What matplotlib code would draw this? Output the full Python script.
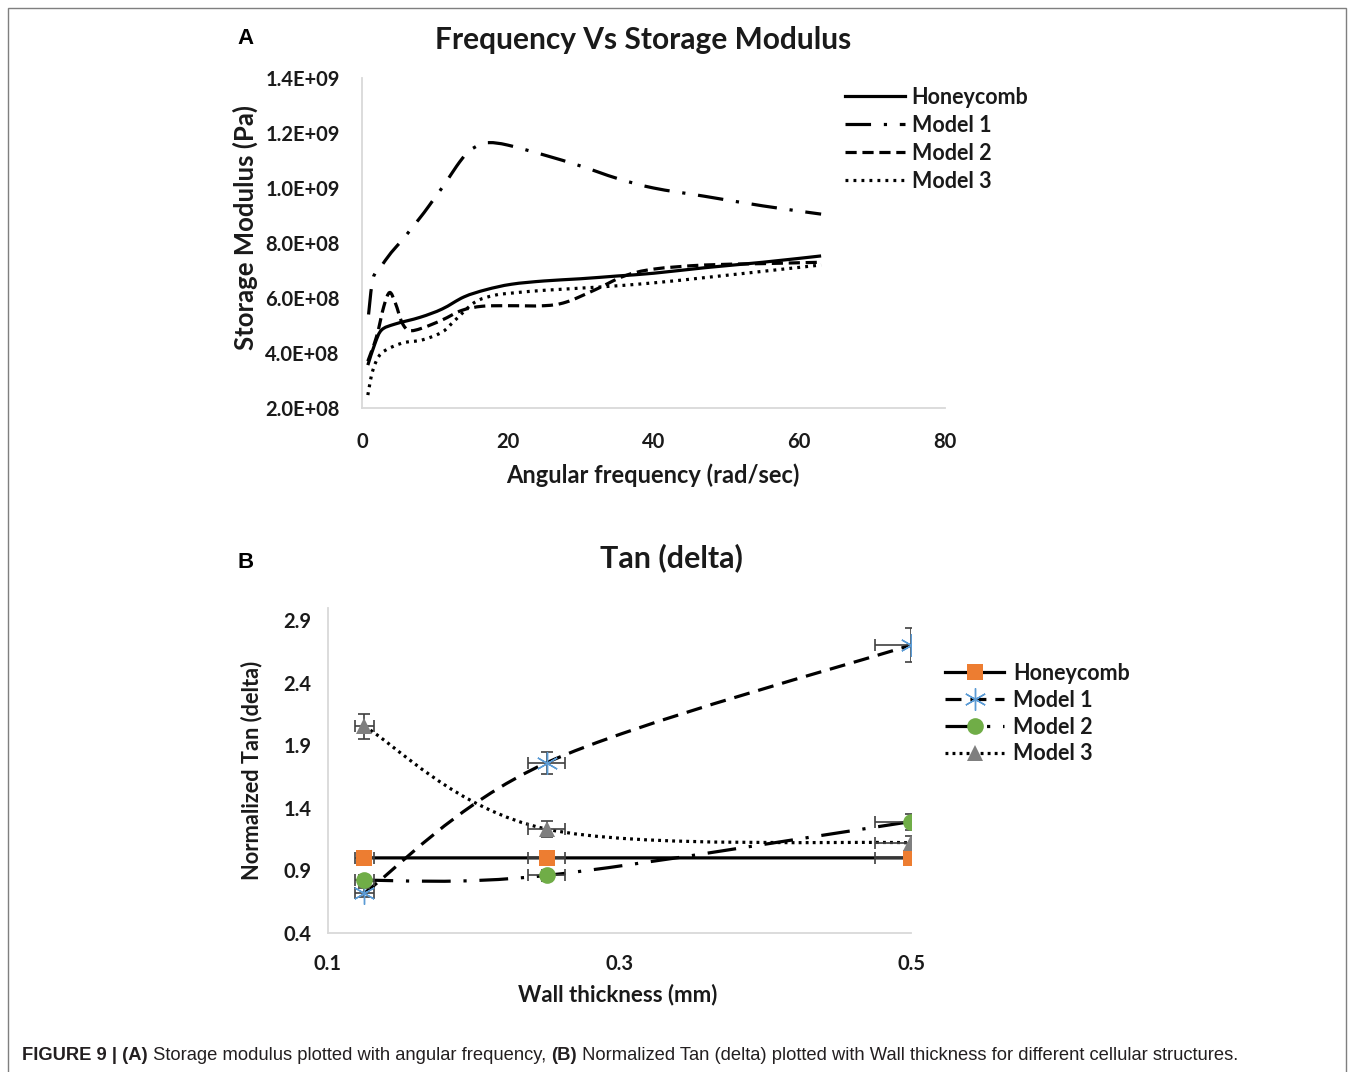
import matplotlib
matplotlib.use("Agg")
import matplotlib.pyplot as plt
from matplotlib.lines import Line2D
from matplotlib.path import Path
from matplotlib.patches import PathPatch, Rectangle
from matplotlib.ticker import FuncFormatter
import numpy as np

# ---- Panel A: storage modulus (values in 1E8 Pa) ----
freq_honeycomb = [0.8, 1.8, 2.7, 4.5, 8, 11, 14, 17, 20.5, 25, 30, 35, 40, 47, 55, 63]
mod_honeycomb = [3.56, 4.36, 4.84, 5.05, 5.3, 5.6, 6.04, 6.3, 6.5, 6.62, 6.7, 6.8, 6.9, 7.1, 7.3, 7.53]

freq_model1 = [0.9, 1.5, 2.5, 4, 5.5, 7, 8.5, 10, 11.5, 13, 14.5, 16, 17.5, 20, 25, 30, 35, 40, 47, 55, 63]
mod_model1 = [5.4, 6.7, 7.1, 7.65, 8.1, 8.6, 9.1, 9.65, 10.2, 10.8, 11.3, 11.55, 11.65, 11.56, 11.2,
              10.8, 10.35, 10.0, 9.7, 9.35, 9.05]

freq_model2 = [0.8, 2.0, 3.0, 3.8, 4.6, 5.5, 6.5, 8.2, 11, 13.7, 16.5, 20, 25, 28, 32, 36, 40, 47, 55, 63]
mod_model2 = [3.7, 4.6, 5.7, 6.2, 5.8, 5.1, 4.82, 4.9, 5.2, 5.55, 5.7, 5.72, 5.72, 5.85, 6.3, 6.8,
              7.05, 7.2, 7.25, 7.3]

freq_model3 = [0.8, 1.5, 2.7, 5.5, 8.2, 11, 12.8, 15.5, 18.2, 20.6, 25, 32.6, 40, 47.7, 55, 63]
mod_model3 = [2.47, 3.38, 4.0, 4.36, 4.47, 4.76, 5.2, 5.85, 6.1, 6.18, 6.28, 6.4, 6.55, 6.76, 6.97, 7.2]

# ---- Panel B: normalized tan(delta) ----
thickness = [0.125, 0.25, 0.5]
tan_honeycomb = [1.0, 1.0, 1.0]
tan_model1 = [0.72, 1.76, 2.70]
tan_model2 = [0.82, 0.86, 1.29]
tan_model3 = [2.05, 1.23, 1.12]
err_pct = 0.05  # percentage error bars, both directions

labels = ["Honeycomb", "Model 1", "Model 2", "Model 3"]

W, H = 1354, 1072
fig = plt.figure(figsize=(W / 100, H / 100), dpi=100)
font = "Lato"
txt = "#1a1a1a"
lw = 2.3

# line styles
ls_m1a = (0, (8, 4, 1, 4))
ls_m2a = (0, (3.5, 1.8))
ls_m3a = (0, (0.9, 1.6))


def fx(px):
    return px / W


def fy(py):
    return 1 - py / H


def smooth_path(x, y):
    # Excel-style smoothed line (Bezier through the points)
    pts = np.column_stack([x, y]).astype(float)
    n = len(pts)
    verts = [pts[0]]
    codes = [Path.MOVETO]
    for i in range(n - 1):
        p0 = pts[max(i - 1, 0)]
        p1 = pts[i]
        p2 = pts[i + 1]
        p3 = pts[min(i + 2, n - 1)]
        verts += [p1 + (p2 - p0) / 6, p2 - (p3 - p1) / 6, p2]
        codes += [Path.CURVE4] * 3
    return Path(verts, codes)


def style_axes(ax):
    for s in ["top", "right"]:
        ax.spines[s].set_visible(False)
    for s in ["left", "bottom"]:
        ax.spines[s].set_color("#d9d9d9")
        ax.spines[s].set_linewidth(1.3)
    ax.tick_params(length=0, labelsize=14.5, labelcolor=txt)
    for lab in ax.get_xticklabels() + ax.get_yticklabels():
        lab.set_fontfamily(font)
        lab.set_fontweight("bold")


# outer frame
fig.add_artist(Rectangle((fx(8), fy(1090)), fx(1338), 1082 / H, transform=fig.transFigure,
                         fill=False, edgecolor="#7f7f7f", linewidth=1.0))

# ================= Panel A =================
axA = fig.add_axes([fx(362), fy(408), fx(583), 330 / H])
sc = 1e8
for fr, md, ls in [(freq_honeycomb, mod_honeycomb, "-"),
                   (freq_model1, mod_model1, ls_m1a),
                   (freq_model2, mod_model2, ls_m2a),
                   (freq_model3, mod_model3, ls_m3a)]:
    axA.add_patch(PathPatch(smooth_path(fr, np.array(md) * sc), fill=False,
                            edgecolor="black", lw=lw, linestyle=ls))
axA.set_xlim(0, 80)
axA.set_ylim(2e8, 1.4e9)
axA.set_xticks([0, 20, 40, 60, 80])
axA.set_yticks(np.arange(2e8, 1.41e9, 2e8))
axA.yaxis.set_major_formatter(FuncFormatter(lambda v, p: f"{v:.1E}"))
axA.tick_params(axis="x", pad=17)
axA.tick_params(axis="y", pad=16)
style_axes(axA)

handlesA = [Line2D([], [], color="black", lw=lw, ls="-"),
            Line2D([], [], color="black", lw=lw, ls=ls_m1a),
            Line2D([], [], color="black", lw=lw, ls=ls_m2a),
            Line2D([], [], color="black", lw=lw, ls=ls_m3a)]
legA = fig.legend(handlesA, labels, loc="upper left", bbox_to_anchor=(fx(845), fy(87)),
                  frameon=False, borderpad=0, borderaxespad=0, handlelength=2.8,
                  handletextpad=0.3, labelspacing=0.32,
                  prop={"family": font, "weight": "bold", "size": 15.5})
for t in legA.get_texts():
    t.set_color(txt)

fig.text(fx(643), fy(40), "Frequency Vs Storage Modulus", ha="center", va="center",
         fontsize=21.5, fontweight="bold", family=font, color=txt)
fig.text(fx(653), fy(475), "Angular frequency (rad/sec)", ha="center", va="center",
         fontsize=17, fontweight="bold", family=font, color=txt)
fig.text(fx(245), fy(228), "Storage Modulus (Pa)", ha="center", va="center", rotation=90,
         fontsize=18.5, fontweight="bold", family=font, color=txt)
fig.text(fx(246), fy(39), "A", ha="center", va="center", fontsize=16, fontweight="bold",
         family="Liberation Sans", color="black")

# ================= Panel B =================
axB = fig.add_axes([fx(328), fy(933), fx(583), 325.5 / H])
series = [
    (tan_honeycomb, "-", "s", "#ed7d31", 12, 0),
    (tan_model1, (0, (5, 2.8)), (6, 2, 0), "#5b9bd5", 16, 1.0),
    (tan_model2, (0, (9, 4, 1, 4)), "o", "#70ad47", 12, 0),
    (tan_model3, (0, (0.9, 1.3)), "^", "#7f7f7f", 12, 0),
]
handlesB = []
for vals, ls, mk, col, ms, mew in series:
    axB.add_patch(PathPatch(smooth_path(thickness, vals), fill=False, edgecolor="black",
                            lw=lw, linestyle=ls, zorder=2))
    vals = np.array(vals)
    axB.errorbar(thickness, vals, xerr=np.array(thickness) * err_pct, yerr=vals * err_pct,
                 fmt="none", ecolor="#404040", elinewidth=1.2, capsize=4, capthick=1.2, zorder=3)
    axB.plot(thickness, vals, ls="none", marker=mk, ms=ms, color=col, mec=col,
             mew=mew, zorder=4)
    handlesB.append(Line2D([], [], color="black", lw=lw, ls=ls, marker=mk, ms=ms,
                           mfc=col, mec=col, mew=mew))
axB.set_xlim(0.1, 0.5)
axB.set_ylim(0.4, 3.0)
axB.set_xticks([0.1, 0.3, 0.5])
axB.set_yticks([0.4, 0.9, 1.4, 1.9, 2.4, 2.9])
axB.xaxis.set_major_formatter(FuncFormatter(lambda v, p: f"{v:.1f}"))
axB.yaxis.set_major_formatter(FuncFormatter(lambda v, p: f"{v:.1f}"))
axB.tick_params(axis="x", pad=15)
axB.tick_params(axis="y", pad=12)
style_axes(axB)

legB = fig.legend(handlesB, labels, loc="upper left", bbox_to_anchor=(fx(945), fy(663)),
                  frameon=False, borderpad=0, borderaxespad=0, handlelength=2.75,
                  handletextpad=0.4, labelspacing=0.27,
                  prop={"family": font, "weight": "bold", "size": 15.5})
for t in legB.get_texts():
    t.set_color(txt)

fig.text(fx(671), fy(558), "Tan (delta)", ha="center", va="center",
         fontsize=22, fontweight="bold", family=font, color=txt)
fig.text(fx(618), fy(995), "Wall thickness (mm)", ha="center", va="center",
         fontsize=16, fontweight="bold", family=font, color=txt)
fig.text(fx(252), fy(770), "Normalized Tan (delta)", ha="center", va="center", rotation=90,
         fontsize=15.7, fontweight="bold", family=font, color=txt)
fig.text(fx(246), fy(563), "B", ha="center", va="center", fontsize=16, fontweight="bold",
         family="Liberation Sans", color="black")

# ================= caption =================
cap_kw = dict(fontsize=13.2, family="Liberation Sans", color="#231f20", va="center")
pieces = [("FIGURE 9 | (A)", "bold"),
          (" Storage modulus plotted with angular frequency, ", "normal"),
          ("(B)", "bold"),
          (" Normalized Tan (delta) plotted with Wall thickness for different cellular structures.",
           "normal")]
prev = fig.text(fx(22), fy(1055), pieces[0][0], fontweight=pieces[0][1], **cap_kw)
for s, w in pieces[1:]:
    # each piece continues right after the previous one
    prev = plt.annotate(s, xy=(1, 0.5), xycoords=prev, xytext=(0, 0),
                        textcoords="offset points", fontweight=w, **cap_kw)

fig.savefig("out.png", dpi=100)
